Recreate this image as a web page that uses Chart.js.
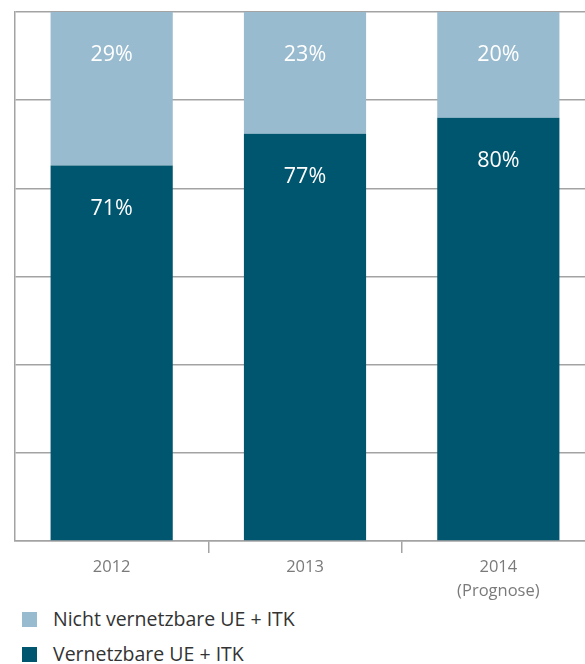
<!DOCTYPE html>
<html>
<head>
<meta charset="utf-8">
<script src="https://cdn.jsdelivr.net/npm/chart.js@4"></script>
<style>
  html, body { margin:0; padding:0; background:#fff; overflow:hidden; width:585px; height:664px; }
  #wrap { position:absolute; left:0; top:0; width:595px; height:605px; }
  #legend { position:absolute; left:0; top:0; font-family:"Open Sans","Noto Sans",sans-serif; font-size:19.5px; color:#333; }
  .item { position:absolute; left:22px; white-space:nowrap; height:20px; line-height:20px; }
  .sw { position:absolute; left:0; top:2px; width:15px; height:15px; }
  .lbl { position:absolute; left:31px; top:-1px; }
</style>
</head>
<body>
<div id="wrap"><canvas id="c"></canvas></div>
<div id="legend"></div>
<script>
const categories = [['2012'], ['2013'], ['2014', '(Prognose)']];
const vernetzbar = [71, 77, 80];
const nichtVernetzbar = [29, 23, 20];
const seriesNames = ['Vernetzbare UE + ITK', 'Nicht vernetzbare UE + ITK'];
const gridValues = [0, 100/6, 200/6, 50, 400/6, 500/6, 100];

const darkColor = '#01566f';
const lightColor = '#99bbcf';
const gridColor = '#a3a3a3';

const labelPlugin = {
  id: 'segLabels',
  afterDatasetsDraw(chart) {
    const ctx = chart.ctx;
    ctx.save();
    ctx.fillStyle = '#ffffff';
    ctx.font = '21.5px "Open Sans", "Noto Sans", sans-serif';
    ctx.textAlign = 'center';
    ctx.textBaseline = 'middle';
    chart.data.datasets.forEach((ds, di) => {
      const meta = chart.getDatasetMeta(di);
      meta.data.forEach((bar, i) => {
        ctx.fillText(ds.data[i] + '%', bar.x, bar.y + 43);
      });
    });
    ctx.restore();
  }
};

new Chart(document.getElementById('c'), {
  type: 'bar',
  data: {
    labels: categories,
    datasets: [
      { label: seriesNames[0], data: vernetzbar, backgroundColor: darkColor, borderWidth: 0,
        barPercentage: 0.632, categoryPercentage: 1 },
      { label: seriesNames[1], data: nichtVernetzbar, backgroundColor: lightColor, borderWidth: 0,
        barPercentage: 0.632, categoryPercentage: 1 }
    ]
  },
  options: {
    responsive: true,
    maintainAspectRatio: false,
    animation: false,
    layout: { padding: { top: 12, left: 0, right: 0, bottom: 0 } },
    plugins: { legend: { display: false }, tooltip: { enabled: false } },
    scales: {
      x: {
        stacked: true,
        offset: true,
        grid: {
          offset: true,
          drawOnChartArea: false,
          drawTicks: true,
          tickLength: 12,
          lineWidth: 1.5,
          color: (c) => (c.index === 0 ? 'rgba(0,0,0,0)' : gridColor)
        },
        border: { display: true, color: gridColor, width: 1.5 },
        ticks: {
          color: '#7a7a7a',
          padding: 2,
          font: { family: '"Open Sans", "Noto Sans", sans-serif', size: 16.5, lineHeight: 1.45 }
        },
        afterFit(scale) { scale.height = 605 - 541; }
      },
      y: {
        stacked: true,
        min: 0,
        max: 100,
        afterBuildTicks(scale) { scale.ticks = gridValues.map(v => ({ value: v })); },
        ticks: { display: false },
        grid: { color: gridColor, lineWidth: 1.5, drawTicks: false },
        border: { display: true, color: gridColor, width: 1.5 },
        afterFit(scale) { scale.width = 15; }
      }
    }
  },
  plugins: [labelPlugin]
});

const legendItems = [
  { name: seriesNames[1], color: lightColor, top: 610 },
  { name: seriesNames[0], color: darkColor, top: 645 }
];
const leg = document.getElementById('legend');
legendItems.forEach(it => {
  const d = document.createElement('div');
  d.className = 'item';
  d.style.top = it.top + 'px';
  d.innerHTML = '<span class="sw" style="background:' + it.color + '"></span><span class="lbl"></span>';
  d.querySelector('.lbl').textContent = it.name;
  leg.appendChild(d);
});
</script>
</body>
</html>
